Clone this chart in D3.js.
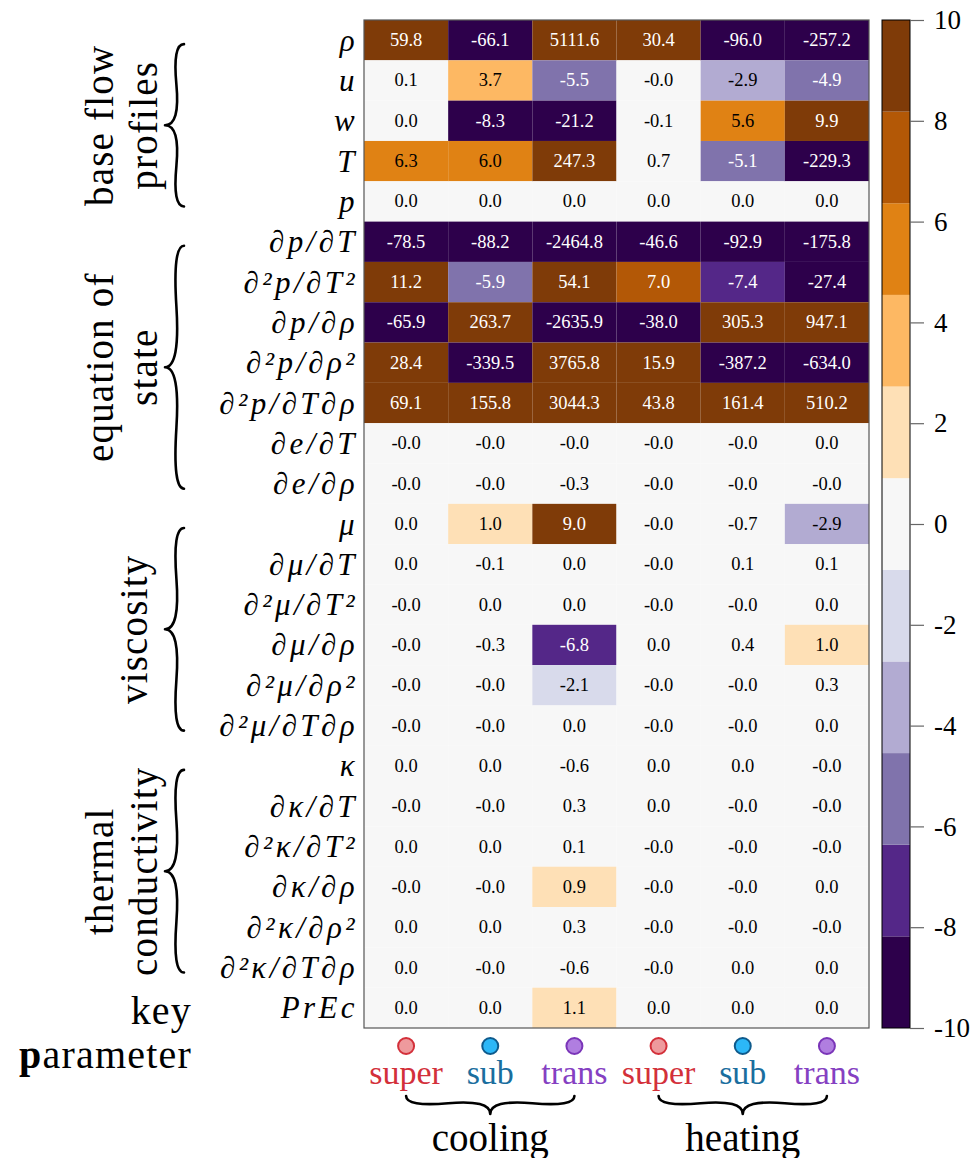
<!DOCTYPE html>
<html>
<head>
<meta charset="utf-8">
<script src="https://cdn.jsdelivr.net/npm/d3@7"></script>
<style>
  html, body { margin: 0; padding: 0; background: #ffffff; }
  svg { display: block; }
  text { font-family: "Liberation Serif", "DejaVu Serif", serif; }
</style>
</head>
<body>
<svg id="chart" width="979" height="1158"></svg>
<script>
// Row labels (quantities) and column labels (regimes)
const rowLabels = [
  "ρ", "u", "w", "T", "p",
  "∂p/∂T", "∂²p/∂T²", "∂p/∂ρ", "∂²p/∂ρ²", "∂²p/∂T∂ρ", "∂e/∂T", "∂e/∂ρ",
  "μ", "∂μ/∂T", "∂²μ/∂T²", "∂μ/∂ρ", "∂²μ/∂ρ²", "∂²μ/∂T∂ρ",
  "κ", "∂κ/∂T", "∂²κ/∂T²", "∂κ/∂ρ", "∂²κ/∂ρ²", "∂²κ/∂T∂ρ",
  "PrEc"
];
const regimes = ["super", "sub", "trans", "super", "sub", "trans"];
const processes = ["cooling", "heating"];

// Sensitivity values, one array per column (rows follow rowLabels)
const coolingSuper = [59.8, 0.1, 0.0, 6.3, 0.0, -78.5, 11.2, -65.9, 28.4, 69.1, -0, -0,
  0.0, 0.0, -0, -0, -0, -0, 0.0, -0, 0.0, -0, 0.0, 0.0, 0.0];
const coolingSub = [-66.1, 3.7, -8.3, 6.0, 0.0, -88.2, -5.9, 263.7, -339.5, 155.8, -0, -0,
  1.0, -0.1, 0.0, -0.3, -0, -0, 0.0, -0, 0.0, -0, 0.0, -0, 0.0];
const coolingTrans = [5111.6, -5.5, -21.2, 247.3, 0.0, -2464.8, 54.1, -2635.9, 3765.8, 3044.3, -0, -0.3,
  9.0, 0.0, 0.0, -6.8, -2.1, 0.0, -0.6, 0.3, 0.1, 0.92, 0.3, -0.6, 1.1];
const heatingSuper = [30.4, -0, -0.1, 0.7, 0.0, -46.6, 7.0, -38.0, 15.9, 43.8, -0, -0,
  -0, -0, -0, 0.0, -0, -0, 0.0, 0.0, -0, -0, -0, -0, 0.0];
const heatingSub = [-96.0, -2.9, 5.6, -5.1, 0.0, -92.9, -7.4, 305.3, -387.2, 161.4, -0, -0,
  -0.7, 0.1, -0, 0.4, -0, -0, 0.0, -0, -0, -0, -0, 0.0, 0.0];
const heatingTrans = [-257.2, -4.9, 9.9, -229.3, 0.0, -175.8, -27.4, 947.1, -634.0, 510.2, 0.0, -0,
  -2.9, 0.1, 0.0, 1.0, 0.3, 0.0, -0, -0, -0, 0.0, -0, 0.0, 0.0];
const columns = [coolingSuper, coolingSub, coolingTrans, heatingSuper, heatingSub, heatingTrans];

// Row groups: label lines, first row, last row
const groups = [
  { lines: ["base flow", "profiles"], from: 0, to: 4 },
  { lines: ["equation of", "state"], from: 5, to: 11 },
  { lines: ["viscosity"], from: 12, to: 17 },
  { lines: ["thermal", "conductivity"], from: 18, to: 23 }
];
const colorbarTicks = [-10, -8, -6, -4, -2, 0, 2, 4, 6, 8, 10];

// Regime styling
const regimeStyle = {
  super: { fill: "#ee9a9d", stroke: "#d3303a", text: "#d3303a" },
  sub:   { fill: "#2cb7f7", stroke: "#0e5a8c", text: "#1a6e9e" },
  trans: { fill: "#b07ee0", stroke: "#7a35b8", text: "#8540c2" }
};

const svg = d3.select("#chart");

const heat = { left: 364, right: 869, top: 20, bottom: 1028 };
const x = d3.scaleBand().domain(d3.range(regimes.length)).range([heat.left, heat.right]);
const y = d3.scaleBand().domain(d3.range(rowLabels.length)).range([heat.top, heat.bottom]);

// Discrete 11-class diverging map, purple (low) to brown (high)
const color = d3.scaleQuantize()
  .domain([-10, 10])
  .range(d3.schemePuOr[11]);

const clamp = v => Math.max(-10, Math.min(10, v));
const fmt = v => (v < 0 || Object.is(v, -0) ? "-" : "") + Math.abs(v).toFixed(1);

const cells = [];
columns.forEach((col, c) => col.forEach((v, r) => cells.push({ c, r, v })));

const gCells = svg.append("g");
gCells.selectAll("rect").data(cells).join("rect")
  .attr("x", d => x(d.c))
  .attr("y", d => y(d.r))
  .attr("width", x.bandwidth())
  .attr("height", y.bandwidth())
  .attr("fill", d => color(clamp(d.v)));

gCells.selectAll("text").data(cells).join("text")
  .attr("x", d => x(d.c) + x.bandwidth() / 2)
  .attr("y", d => y(d.r) + y.bandwidth() / 2)
  .attr("text-anchor", "middle")
  .attr("dominant-baseline", "central")
  .attr("font-size", 18.5)
  .attr("fill", d => d3.lab(color(clamp(d.v))).l < 58 ? "#ffffff" : "#000000")
  .text(d => fmt(d.v));

// Frame
svg.append("rect")
  .attr("x", heat.left).attr("y", heat.top)
  .attr("width", heat.right - heat.left).attr("height", heat.bottom - heat.top)
  .attr("fill", "none").attr("stroke", "#555").attr("stroke-width", 1.2);

// Row labels
svg.append("g").selectAll("text").data(rowLabels).join("text")
  .attr("x", 358)
  .attr("y", (d, i) => y(i) + y.bandwidth() / 2)
  .attr("text-anchor", "end")
  .attr("dominant-baseline", "central")
  .attr("font-family", "DejaVu Serif, serif")
  .attr("font-style", "italic")
  .attr("font-size", 31)
  .attr("letter-spacing", 3.4)
  .text(d => d);

// Curly brace path between two points; tip offset w to the side
function brace(x1, y1, x2, y2, w, q) {
  let dx = x1 - x2, dy = y1 - y2;
  const len = Math.hypot(dx, dy);
  dx /= len; dy /= len;
  const qx1 = x1 + q * w * dy, qy1 = y1 - q * w * dx;
  const qx2 = (x1 - 0.25 * len * dx) + (1 - q) * w * dy, qy2 = (y1 - 0.25 * len * dy) - (1 - q) * w * dx;
  const tx1 = (x1 - 0.5 * len * dx) + w * dy, ty1 = (y1 - 0.5 * len * dy) - w * dx;
  const qx3 = x2 + q * w * dy, qy3 = y2 - q * w * dx;
  const qx4 = (x1 - 0.75 * len * dx) + (1 - q) * w * dy, qy4 = (y1 - 0.75 * len * dy) - (1 - q) * w * dx;
  return `M${x1},${y1}Q${qx1},${qy1} ${qx2},${qy2}T${tx1},${ty1}M${x2},${y2}Q${qx3},${qy3} ${qx4},${qy4}T${tx1},${ty1}`;
}

// Group braces and labels on the left
const gGroups = svg.append("g");
groups.forEach(g => {
  const y0 = y(g.from) + y.bandwidth() / 2 + 4;
  const y1 = y(g.to) + y.bandwidth() / 2 + 5;
  gGroups.append("path")
    .attr("d", brace(184, y0, 184, y1, 19, 0.6))
    .attr("fill", "none").attr("stroke", "#000").attr("stroke-width", 2.6)
    .attr("stroke-linecap", "round");
  const cy = (y0 + y1) / 2;
  const baselines = g.lines.length === 2 ? [113, 157] : [147];
  g.lines.forEach((line, k) => {
    gGroups.append("text")
      .attr("transform", `translate(${baselines[k]},${cy}) rotate(-90)`)
      .attr("text-anchor", "middle")
      .attr("font-size", 39)
      .attr("letter-spacing", 1.2)
      .text(line);
  });
});

// Key parameter label
const keyLabel = svg.append("g").attr("font-size", 40).attr("text-anchor", "end")
  .attr("letter-spacing", 1.2);
keyLabel.append("text").attr("x", 192).attr("y", 1024).text("key");
const pLine = keyLabel.append("text").attr("x", 192).attr("y", 1068);
pLine.append("tspan").attr("font-weight", "bold").text("p");
pLine.append("tspan").text("arameter");

// Regime markers and labels under the columns
const gReg = svg.append("g");
gReg.selectAll("circle").data(regimes).join("circle")
  .attr("cx", (d, i) => x(i) + x.bandwidth() / 2)
  .attr("cy", 1046)
  .attr("r", 8)
  .attr("fill", d => regimeStyle[d].fill)
  .attr("stroke", d => regimeStyle[d].stroke)
  .attr("stroke-width", 2);
gReg.selectAll("text").data(regimes).join("text")
  .attr("x", (d, i) => x(i) + x.bandwidth() / 2)
  .attr("y", 1084)
  .attr("text-anchor", "middle")
  .attr("font-size", 34)
  .attr("fill", d => regimeStyle[d].text)
  .text(d => d);

// Process braces under the regime labels
processes.forEach((p, k) => {
  const xa = x(k * 3) + x.bandwidth() / 2;
  const xb = x(k * 3 + 2) + x.bandwidth() / 2;
  svg.append("path")
    .attr("d", brace(xa, 1096, xb, 1096, 18, 0.6))
    .attr("fill", "none").attr("stroke", "#000").attr("stroke-width", 2.6)
    .attr("stroke-linecap", "round");
  svg.append("text")
    .attr("x", (xa + xb) / 2)
    .attr("y", 1151)
    .attr("text-anchor", "middle")
    .attr("font-size", 39)
    .text(p);
});

// Colorbar
const cb = { left: 882, right: 910 };
const cy = d3.scaleLinear().domain([-10, 10]).range([heat.bottom, heat.top]);
const edges = [-10, ...color.thresholds(), 10];
const bins = d3.pairs(edges);
const gCb = svg.append("g");
gCb.selectAll("rect").data(bins).join("rect")
  .attr("x", cb.left)
  .attr("y", d => cy(d[1]))
  .attr("width", cb.right - cb.left)
  .attr("height", d => cy(d[0]) - cy(d[1]))
  .attr("fill", d => color((d[0] + d[1]) / 2));
gCb.append("rect")
  .attr("x", cb.left).attr("y", heat.top)
  .attr("width", cb.right - cb.left).attr("height", heat.bottom - heat.top)
  .attr("fill", "none").attr("stroke", "#000").attr("stroke-width", 1);

const axis = d3.axisRight(cy).tickValues(colorbarTicks).tickSize(14).tickPadding(10)
  .tickFormat(t => String(t));
const gAxis = svg.append("g").attr("transform", `translate(${cb.right},0)`).call(axis);
gAxis.select(".domain").remove();
gAxis.selectAll(".tick line").attr("stroke", "#666").attr("stroke-width", 1.2);
gAxis.selectAll(".tick text")
  .attr("font-family", "Liberation Serif, serif")
  .attr("font-size", 27)
  .attr("fill", "#000");
</script>
</body>
</html>
